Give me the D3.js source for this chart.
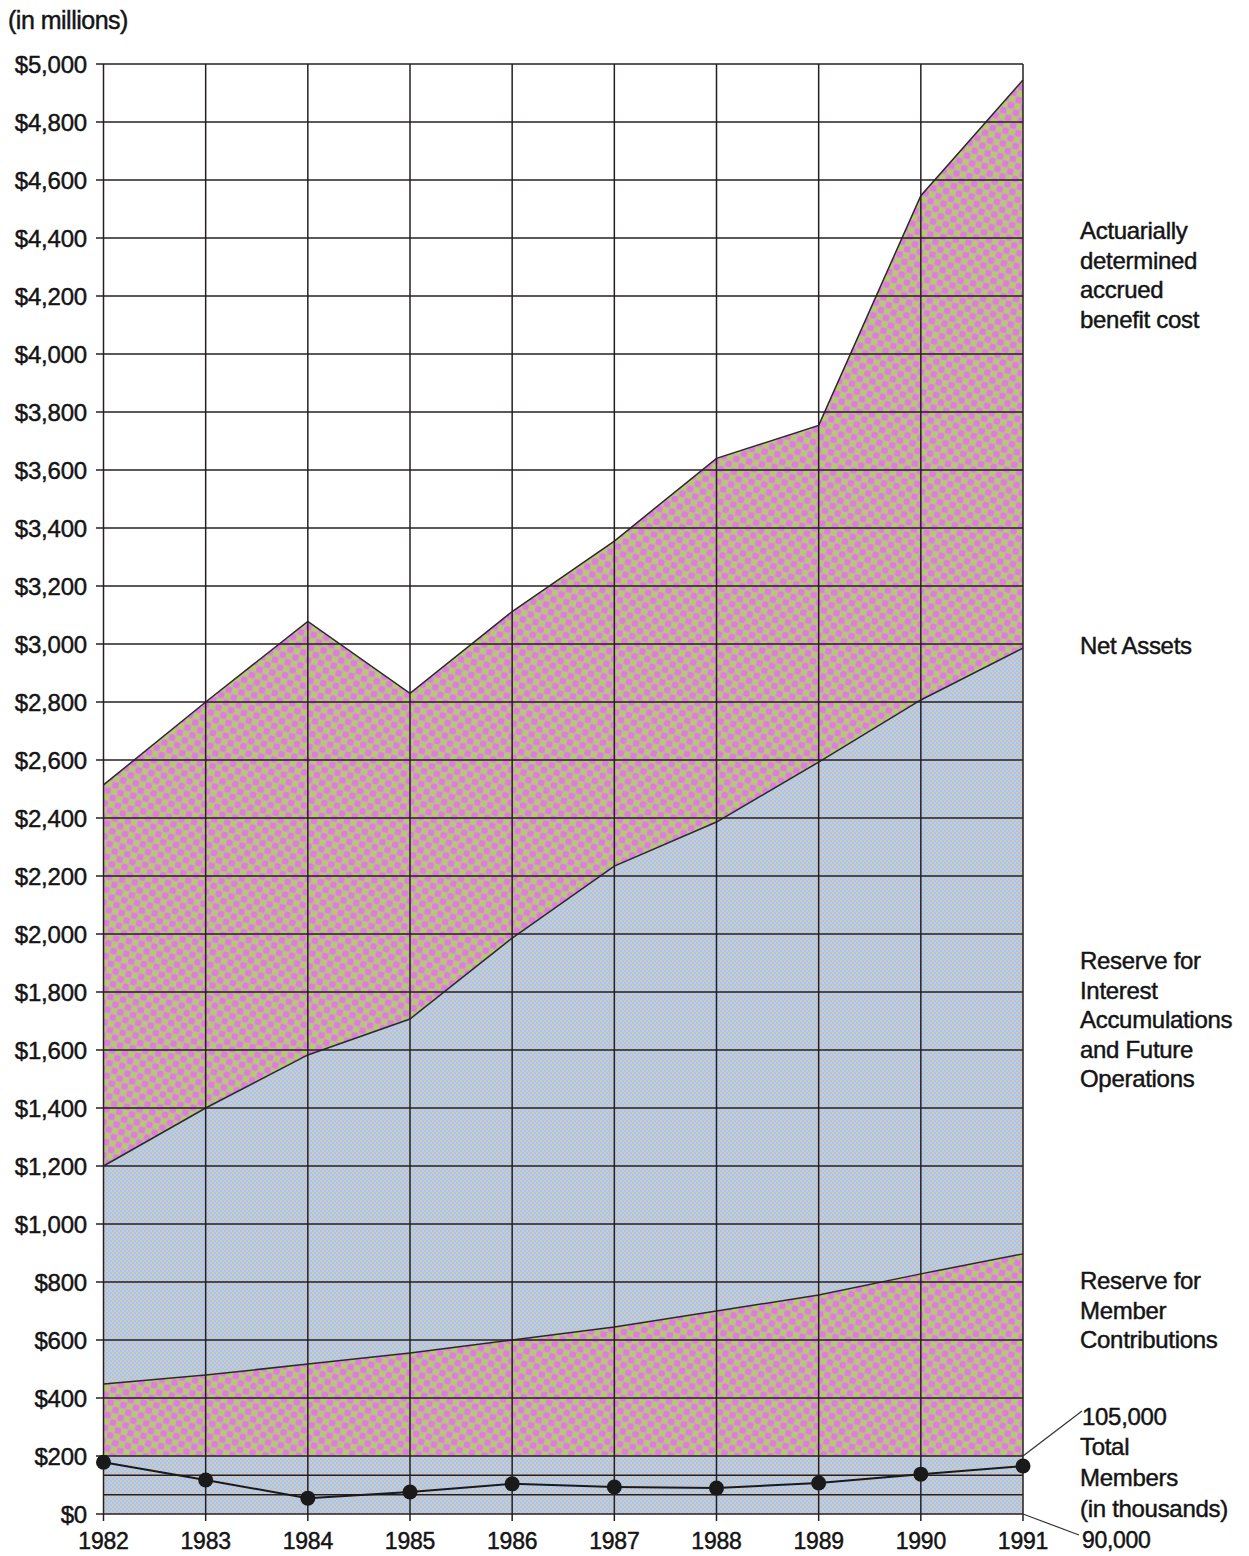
<!DOCTYPE html>
<html>
<head>
<meta charset="utf-8">
<script src="https://cdn.jsdelivr.net/npm/d3@7"></script>
<style>
  html, body { margin: 0; padding: 0; background: #fff; }
  svg { display: block; }
  text { font-family: "Liberation Sans", Arial, Helvetica, sans-serif; fill: #141414; stroke: #141414; stroke-width: 0.45; }
</style>
</head>
<body>
<svg id="chart" width="1249" height="1556"></svg>
<script>
// ---- data (in millions of dollars, members in thousands) ----
const years = [1982, 1983, 1984, 1985, 1986, 1987, 1988, 1989, 1990, 1991];
const accruedBenefitCost = [2514, 2800, 3078, 2830, 3112, 3355, 3640, 3754, 4546, 4945];
const netAssets = [1200, 1400, 1583, 1707, 1986, 2234, 2386, 2593, 2807, 2986];
const memberReserve = [448, 479, 517, 555, 600, 645, 700, 755, 828, 897];
const totalMembers = [103.4, 98.8, 94.1, 95.7, 97.8, 97.0, 96.7, 98.0, 100.3, 102.4];
const yTicks = d3.range(0, 5001, 200);
const memberGrid = [95, 100];
const membersDomain = [90, 105];
const axisNote = "(in millions)";
const labelAccrued = ["Actuarially", "determined", "accrued", "benefit cost"];
const labelNet = ["Net Assets"];
const labelInterest = ["Reserve for", "Interest", "Accumulations", "and Future", "Operations"];
const labelMember = ["Reserve for", "Member", "Contributions"];
const labelMembersTop = "105,000";
const labelMembers = ["Total", "Members", "(in thousands)"];
const labelMembersBottom = "90,000";

const svg = d3.select("#chart");
const x = d3.scaleLinear().domain([1982, 1991]).range([103.5, 1023]);
const y = d3.scaleLinear().domain([0, 5000]).range([1514, 64]);
const ym = d3.scaleLinear().domain(membersDomain).range([y(0), y(200)]);

// ---- patterns ----
const defs = svg.append("defs");
const pk = defs.append("pattern").attr("id", "pinkDots")
  .attr("patternUnits", "userSpaceOnUse").attr("width", 13).attr("height", 13)
  .attr("patternTransform", "rotate(12)");
pk.append("rect").attr("width", 13).attr("height", 13).attr("fill", "#cfa3c4");
[[3.25, 3.25, "#dc7cdc"], [9.75, 9.75, "#dc7cdc"], [9.75, 3.25, "#b6c96c"], [3.25, 9.75, "#b6c96c"]]
  .forEach(([cx, cy, c]) => pk.append("circle").attr("cx", cx).attr("cy", cy).attr("r", 3.2).attr("fill", c));

const bl = defs.append("pattern").attr("id", "blueCheck")
  .attr("patternUnits", "userSpaceOnUse").attr("width", 4).attr("height", 4);
bl.append("rect").attr("width", 4).attr("height", 4).attr("fill", "#a9c5e8");
bl.append("rect").attr("x", 0).attr("y", 0).attr("width", 2).attr("height", 2).attr("fill", "#dcc6ac");
bl.append("rect").attr("x", 2).attr("y", 2).attr("width", 2).attr("height", 2).attr("fill", "#bccde6");

// ---- areas ----
const rows = years.map((yr, i) => ({ yr, a: accruedBenefitCost[i], n: netAssets[i], m: memberReserve[i] }));
const area = (lo, hi) => d3.area().x(d => x(d.yr)).y0(d => y(lo(d))).y1(d => y(hi(d)));

svg.append("path").datum(rows).attr("d", area(d => d.n, d => d.a)).attr("fill", "url(#pinkDots)");
svg.append("path").datum(rows).attr("d", area(d => d.m, d => d.n)).attr("fill", "url(#blueCheck)");
svg.append("path").datum(rows).attr("d", area(() => 200, d => d.m)).attr("fill", "url(#pinkDots)");
svg.append("path").datum(rows).attr("d", area(() => 0, () => 200)).attr("fill", "url(#blueCheck)");

// boundary lines
const bLine = f => d3.line().x(d => x(d.yr)).y(d => y(f(d)));
[d => d.a, d => d.n, d => d.m].forEach(f => {
  svg.append("path").datum(rows).attr("d", bLine(f))
    .attr("fill", "none").attr("stroke", "#2a2a2a").attr("stroke-width", 1.5);
});

// ---- grid ----
const grid = svg.append("g").attr("stroke", "#261f22").attr("stroke-width", 1.5);
grid.selectAll("line.h").data(yTicks).join("line")
  .attr("x1", 96).attr("x2", x(1991)).attr("y1", d => y(d)).attr("y2", d => y(d));
grid.selectAll("line.v").data(years).join("line")
  .attr("x1", d => x(d)).attr("x2", d => x(d)).attr("y1", y(5000)).attr("y2", y(0) + 7);
grid.selectAll("line.m").data(memberGrid).join("line")
  .attr("x1", x(1982)).attr("x2", x(1991)).attr("y1", d => ym(d)).attr("y2", d => ym(d));

// ---- members line ----
const mLine = d3.line().x((d, i) => x(years[i])).y(d => ym(d));
svg.append("path").datum(totalMembers).attr("d", mLine)
  .attr("fill", "none").attr("stroke", "#1a1a1a").attr("stroke-width", 2);
svg.selectAll("circle.mem").data(totalMembers).join("circle")
  .attr("cx", (d, i) => x(years[i])).attr("cy", d => ym(d)).attr("r", 7.5).attr("fill", "#1a1a1a");

// ---- axis labels ----
svg.selectAll("text.yt").data(yTicks).join("text")
  .attr("x", 87).attr("y", d => y(d)).attr("dy", "0.36em").attr("text-anchor", "end")
  .attr("font-size", 24).attr("letter-spacing", -0.2).text(d => "$" + d3.format(",")(d));
svg.selectAll("text.xt").data(years).join("text")
  .attr("x", d => x(d)).attr("y", 1549).attr("text-anchor", "middle")
  .attr("font-size", 23).attr("letter-spacing", -0.2).text(d => d);
svg.append("text").attr("x", 8).attr("y", 29).attr("font-size", 25).attr("letter-spacing", -0.5).text(axisNote);

// ---- right labels ----
function block(lines, startBaseline, lh) {
  lines.forEach((t, i) => svg.append("text").attr("x", 1080).attr("y", startBaseline + i * lh)
    .attr("font-size", 24).attr("letter-spacing", -0.3).text(t));
}
block(labelAccrued, 239, 29.5);
block(labelNet, 654, 29.5);
block(labelInterest, 969, 29.5);
block(labelMember, 1289, 29.5);
svg.append("text").attr("x", 1082).attr("y", 1425).attr("font-size", 24).attr("letter-spacing", -0.3).text(labelMembersTop);
block(labelMembers, 1455, 31);
svg.append("text").attr("x", 1082).attr("y", 1548).attr("font-size", 23).attr("letter-spacing", -0.3).text(labelMembersBottom);

// leader lines
svg.append("line").attr("x1", x(1991)).attr("y1", y(200)).attr("x2", 1082).attr("y2", 1411)
  .attr("stroke", "#333").attr("stroke-width", 1.2);
svg.append("line").attr("x1", x(1991)).attr("y1", y(0)).attr("x2", 1079).attr("y2", 1535)
  .attr("stroke", "#333").attr("stroke-width", 1.2);
</script>
</body>
</html>
